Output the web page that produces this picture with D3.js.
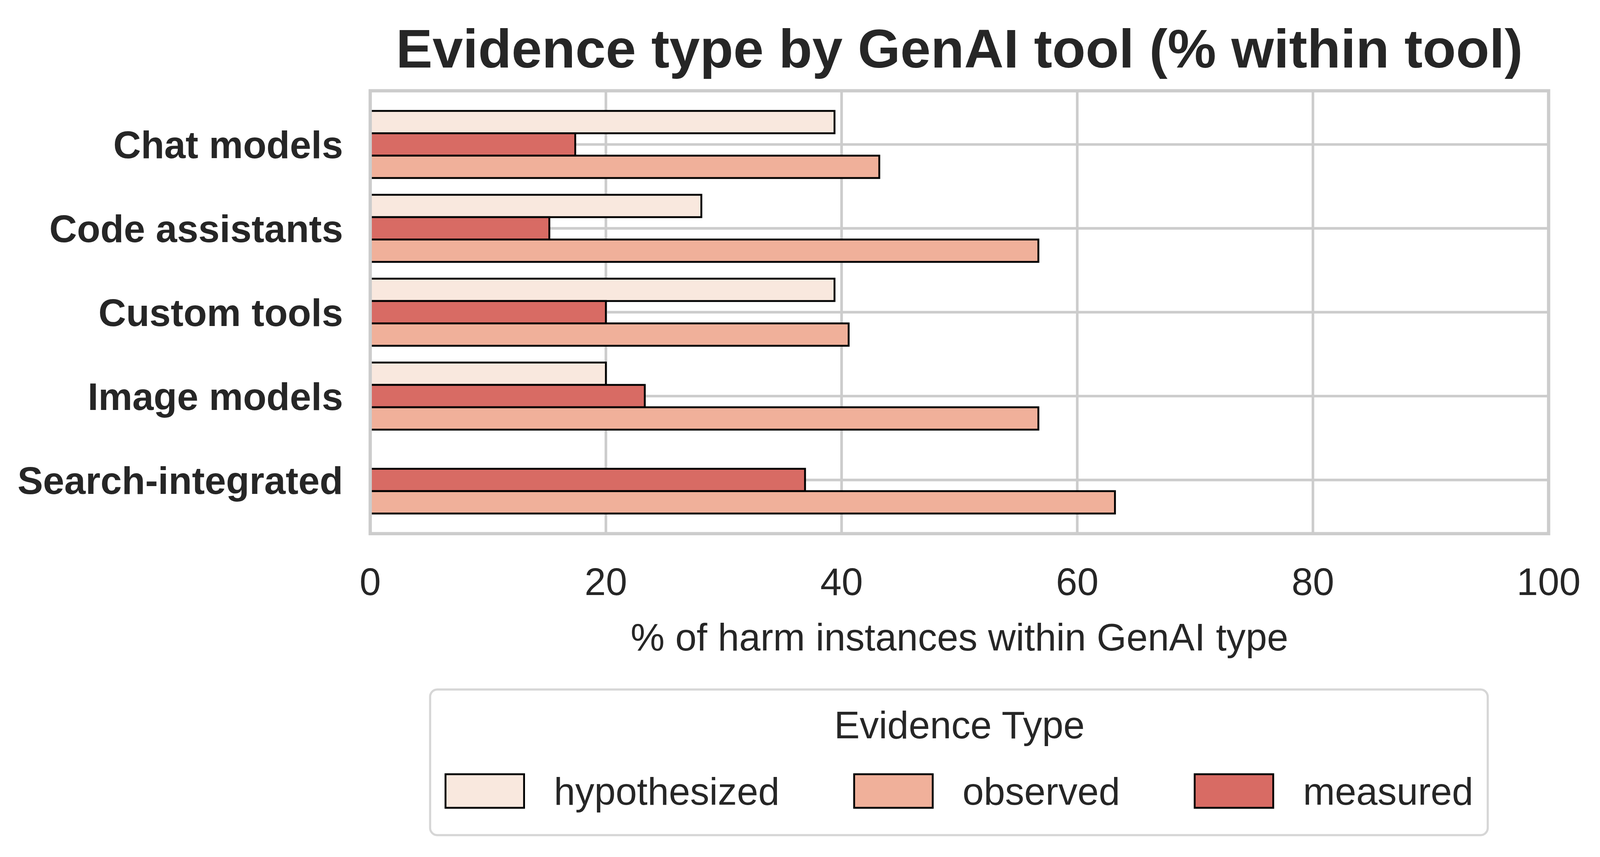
<!DOCTYPE html>
<html>
<head>
<meta charset="utf-8">
<script src="https://cdn.jsdelivr.net/npm/d3@7"></script>
<style>
  html, body { margin: 0; padding: 0; background: #fff; overflow: hidden; }
  svg { display: block; }
  text { font-family: "Liberation Sans", Arial, sans-serif; fill: #262626; }
</style>
</head>
<body>
<div id="chart"></div>
<script>
// data (% within tool)
var tools = ["Chat models", "Code assistants", "Custom tools", "Image models", "Search-integrated"];
var barOrder = ["hypothesized", "measured", "observed"];      // order of bars inside a group
var legendOrder = ["hypothesized", "observed", "measured"];   // order in the legend
var hypothesized = [39.4, 28.1, 39.4, 20.0, 0];
var measured = [17.4, 15.2, 20.0, 23.3, 36.9];
var observed = [43.2, 56.7, 40.6, 56.7, 63.2];
var xTicks = [0, 20, 40, 60, 80, 100];

var series = { hypothesized: hypothesized, measured: measured, observed: observed };
var colors = { hypothesized: "#f9e8de", observed: "#f0b09a", measured: "#d86b64" };

// layout is worked out on a 4888x2195 sheet, then fitted to the real window
var W = window.innerWidth || 4888, H = window.innerHeight || 2195;
var sx = W / 4888, sy = H / 2195;
function X(v) { return v * sx; }
function Y(v) { return v * sy; }
function F(v) { return v * Math.min(sx, sy); }   // font sizes / line widths keep their shape

var pLeft = X(1131), pRight = X(4731), pTop = Y(232.5), pBottom = Y(1366.8);
var midX = (pLeft + pRight) / 2;

var svg = d3.select("#chart").append("svg")
    .attr("width", W)
    .attr("height", H);

var x = d3.scaleLinear().domain([0, 100]).range([pLeft, pRight]);
// categorical positions 0..4, with the same padding matplotlib gave
var y = d3.scaleLinear().domain([-0.64, 4.64]).range([pTop, pBottom]);
var barW = 0.8 / barOrder.length;

// grid
svg.append("g").selectAll("line.vg")
    .data(xTicks)
    .enter().append("line")
    .attr("x1", function(d) { return x(d); })
    .attr("x2", function(d) { return x(d); })
    .attr("y1", pTop).attr("y2", pBottom)
    .attr("stroke", "#cccccc").attr("stroke-width", F(8));

svg.append("g").selectAll("line.hg")
    .data(tools)
    .enter().append("line")
    .attr("x1", pLeft).attr("x2", pRight)
    .attr("y1", function(d, i) { return y(i); })
    .attr("y2", function(d, i) { return y(i); })
    .attr("stroke", "#cccccc").attr("stroke-width", F(8));

// bars
var rows = [];
tools.forEach(function(t, i) {
  barOrder.forEach(function(k, j) {
    rows.push({ tool: t, i: i, j: j, kind: k, value: series[k][i] });
  });
});

svg.append("g").selectAll("rect.bar")
    .data(rows)
    .enter().append("rect")
    .attr("class", "bar")
    .attr("x", x(0))
    .attr("y", function(d) { return y(d.i - 0.4 + d.j * barW); })
    .attr("width", function(d) { return x(d.value) - x(0); })
    .attr("height", function(d) { return y(barW) - y(0); })
    .attr("fill", function(d) { return colors[d.kind]; })
    .attr("stroke", "#000")
    .attr("stroke-width", F(5.7));

// frame (drawn over the bars like matplotlib spines)
svg.append("rect")
    .attr("x", pLeft).attr("y", pTop)
    .attr("width", pRight - pLeft).attr("height", pBottom - pTop)
    .attr("fill", "none")
    .attr("stroke", "#cccccc").attr("stroke-width", F(10));

// y labels
svg.append("g").selectAll("text.ylab")
    .data(tools)
    .enter().append("text")
    .attr("x", X(1048))
    .attr("y", function(d, i) { return y(i); })
    .attr("dy", "0.36em")
    .attr("text-anchor", "end")
    .attr("font-size", F(117))
    .attr("font-weight", "bold")
    .text(function(d) { return d; });

// x tick labels
svg.append("g").selectAll("text.xtick")
    .data(xTicks)
    .enter().append("text")
    .attr("x", function(d) { return x(d); })
    .attr("y", Y(1489))
    .attr("dy", "0.36em")
    .attr("text-anchor", "middle")
    .attr("font-size", F(117))
    .text(function(d) { return d; });

// x label
svg.append("text")
    .attr("x", midX)
    .attr("y", Y(1631))
    .attr("dy", "0.36em")
    .attr("text-anchor", "middle")
    .attr("font-size", F(117))
    .text("% of harm instances within GenAI type");

// title
svg.append("text")
    .attr("x", midX)
    .attr("y", Y(123))
    .attr("dy", "0.36em")
    .attr("text-anchor", "middle")
    .attr("font-size", F(167))
    .attr("font-weight", "bold")
    .text("Evidence type by GenAI tool (% within tool)");

// legend
var leg = svg.append("g");
leg.append("rect")
    .attr("x", X(1314)).attr("y", Y(1766))
    .attr("width", X(4545 - 1314)).attr("height", Y(2139 - 1766))
    .attr("rx", F(22)).attr("ry", F(22))
    .attr("fill", "#fff")
    .attr("stroke", "#d6d6d6").attr("stroke-width", F(6.5));

leg.append("text")
    .attr("x", midX)
    .attr("y", Y(1856))
    .attr("dy", "0.36em")
    .attr("text-anchor", "middle")
    .attr("font-size", F(117))
    .text("Evidence Type");

var patchW = X(240), patchH = Y(86), textGap = X(91), colGap = X(228);
var items = leg.selectAll("g.item")
    .data(legendOrder)
    .enter().append("g")
    .attr("class", "item");

items.append("text")
    .attr("y", Y(2026))
    .attr("dy", "0.36em")
    .attr("font-size", F(117))
    .text(function(d) { return d; });

// lay the entries out from their real text widths, centred under the axes
var widths = [];
items.select("text").each(function() { widths.push(this.getComputedTextLength()); });
var total = d3.sum(widths) + legendOrder.length * (patchW + textGap) + (legendOrder.length - 1) * colGap;
var cx = midX - total / 2;
items.each(function(d, i) {
  var g = d3.select(this);
  g.insert("rect", "text")
      .attr("x", cx).attr("y", Y(1983))
      .attr("width", patchW).attr("height", patchH)
      .attr("fill", colors[d])
      .attr("stroke", "#000").attr("stroke-width", F(5.7));
  g.select("text").attr("x", cx + patchW + textGap);
  cx += patchW + textGap + widths[i] + colGap;
});
</script>
</body>
</html>
